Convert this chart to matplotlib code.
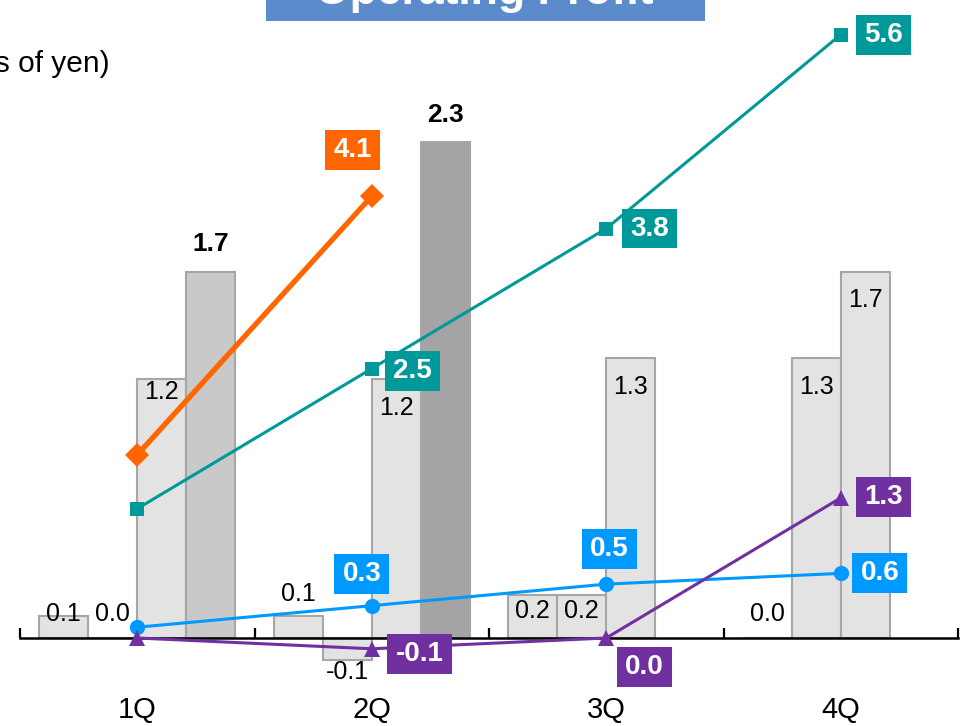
import numpy as np
import matplotlib
matplotlib.use("Agg")
import matplotlib.pyplot as plt
from matplotlib.path import Path

plt.rcParams['font.family'] = ['Liberation Sans', 'DejaVu Sans']

# ---- data -------------------------------------------------------------
quarters = ["1Q", "2Q", "3Q", "4Q"]

# quarterly bars (billions of yen)
bar_a = [0.1, 0.1, 0.2, 0.0]
bar_b = [0.0, -0.1, 0.2, 1.3]
bar_c = [1.2, 1.2, 1.3, 1.7]
bar_d = [1.7, 2.3, np.nan, np.nan]

# cumulative lines (plotted on the right-hand scale)
line_orange = [1.7, 4.1, np.nan, np.nan]
line_teal = [1.2, 2.5, 3.8, 5.6]
line_blue = [0.1, 0.3, 0.5, 0.6]
line_purple = [0.0, -0.1, 0.0, 1.3]

# ---- styling / layout ---------------------------------------------------
DPI = 100
W, H = 974, 726
PX = 72.0 / DPI  # pixel -> point

LIGHT = "#e3e3e3"
EDGE = "#a6a6a6"
bar_d_colors = ["#c8c9c8", "#a3a4a3"]
ORANGE, TEAL, BLUE, PURPLE = "#ff6600", "#009999", "#0099ff", "#7030a0"
TITLE_BG = "#5b8bcb"

# label offsets in pixels from the bar end (positive = up)
off_a = [2, 22, -16, 24]
off_b = [24, -12, -16, -29]
off_c = [-13, -29, -29, -28]
off_d = [28, 27]

# line label offsets in pixels (dx, dy up); None = no label
lab_orange = [None, (-19, 46), None, None]
lab_teal = [None, (41, -2), (43, 0), (43, 0)]
lab_blue = [None, (-10, 32), (3, 35), (39, 0)]
lab_purple = [None, (48, -5), (38, -29), (43, 1)]

# ---- figure -------------------------------------------------------------
fig = plt.figure(figsize=(W / DPI, H / DPI), dpi=DPI)
ax_left, ax_right = 20, 958
zero_px = 638
scale = 215.5  # px per unit on the bar axis
ymin = -(H - zero_px) / scale
ymax = zero_px / scale

ax = fig.add_axes([ax_left / W, 0, (ax_right - ax_left) / W, 1])
ax.set_xlim(-0.5, 3.5)
ax.set_ylim(ymin, ymax)
ax.patch.set_visible(False)
for s in ("top", "right", "left"):
    ax.spines[s].set_visible(False)
ax.spines["bottom"].set_position(("data", 0))
ax.spines["bottom"].set_linewidth(1.8)
ax.spines["bottom"].set_zorder(4)
ax.set_yticks([])
ax.set_xticks([-0.5, 0.5, 1.5, 2.5, 3.5])
ax.tick_params(axis="x", direction="in", length=7, width=1.6, labelbottom=False)

x = np.arange(len(quarters))
bw = 49 / 234.5

def label(xp, yv, txt, dy_px, size=18, weight="normal"):
    ax.annotate(txt, (xp, yv), xytext=(0, dy_px * PX), textcoords="offset points",
                ha="center", va="center", fontsize=size, fontweight=weight,
                color="black", zorder=6)

series = [(bar_a, off_a), (bar_b, off_b), (bar_c, off_c)]
for k, (vals, offs) in enumerate(series):
    xs = x + (k - 1.5) * bw
    ax.bar(xs, vals, width=bw, color=LIGHT, edgecolor=EDGE, linewidth=1.5, zorder=2)
    for xi, v, o in zip(xs, vals, offs):
        label(xi, v, f"{v:.1f}", o)

xs_d = x[:2] + 1.5 * bw
ax.bar(xs_d, bar_d[:2], width=bw, color=bar_d_colors, edgecolor=EDGE, linewidth=1.5, zorder=2)
for xi, v, o in zip(xs_d, bar_d[:2], off_d):
    label(xi, v, f"{v:.1f}", o, size=19, weight="bold")

for xi, q in zip(x, quarters):
    ax.text(xi, -72 / scale, q, ha="center", va="center", fontsize=21, color="black")

# ---- lines on the secondary scale ---------------------------------------
ax2 = ax.twinx()
ax2.set_ylim(ymin * 2, ymax * 2)
ax2.set_axis_off()

def rect_box(pad_x, pad_y):
    def style(x0, y0, width, height, mutation_size):
        px, py = pad_x * mutation_size, pad_y * mutation_size
        x0, y0 = x0 - px, y0 - py
        x1, y1 = x0 + width + 2 * px, y0 + height + 2 * py
        return Path([(x0, y0), (x1, y0), (x1, y1), (x0, y1), (x0, y0)], closed=True)
    return style

lines = [
    (line_orange, ORANGE, "D", 12, 3.8, lab_orange),
    (line_teal, TEAL, "s", 10, 2.2, lab_teal),
    (line_blue, BLUE, "o", 11, 2.2, lab_blue),
    (line_purple, PURPLE, "^", 12, 2.2, lab_purple),
]
for vals, col, mk, ms, lw, labs in lines:
    ax2.plot(x, vals, color=col, marker=mk, markersize=ms, linewidth=lw,
             markeredgewidth=0, zorder=5)
    for xi, v, lab in zip(x, vals, labs):
        if lab is None or np.isnan(v):
            continue
        ax2.annotate(f"{v:.1f}", (xi, v), xytext=(lab[0] * PX, lab[1] * PX),
                     textcoords="offset points", ha="center", va="center",
                     fontsize=20, fontweight="bold", color="white", zorder=7,
                     bbox=dict(boxstyle=rect_box(0.3, 0.25), fc=col, ec="none"))

# ---- title and unit -----------------------------------------------------
fig.patches.append(plt.Rectangle((266 / W, 1 - 20.5 / H), (705 - 266) / W, 30 / H,
                                 transform=fig.transFigure, facecolor=TITLE_BG,
                                 edgecolor="none", zorder=0))
fig.text(484 / W, 1 - 4 / H, "Operating Profit", ha="center", va="baseline",
         fontsize=32, fontweight="bold", color="white")
fig.text(110 / W, 1 - 72 / H, "(Billions of yen)", ha="right", va="baseline",
         fontsize=21.5, color="black")

fig.savefig("out.png", dpi=DPI)
